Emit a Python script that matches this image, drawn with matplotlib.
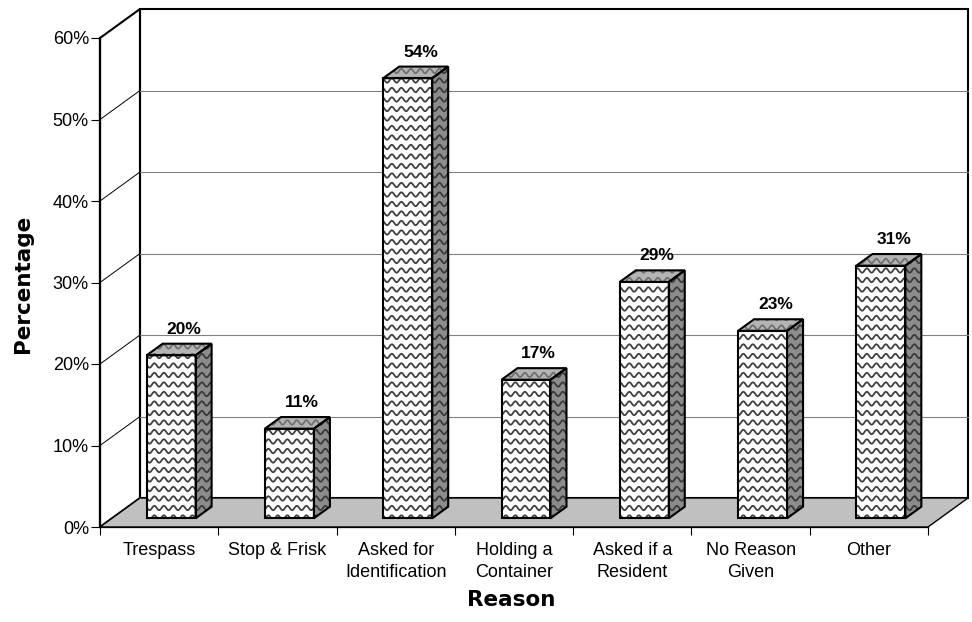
import numpy as np
import matplotlib
matplotlib.use('Agg')
import matplotlib.pyplot as plt
from matplotlib.patches import Polygon
from matplotlib.lines import Line2D
from matplotlib.transforms import IdentityTransform
from matplotlib.ticker import FuncFormatter

reasons = ['Trespass', 'Stop & Frisk', 'Asked for\nIdentification', 'Holding a\nContainer',
           'Asked if a\nResident', 'No Reason\nGiven', 'Other']
percentages = [20, 11, 54, 17, 29, 23, 31]
y_ticks = [0, 10, 20, 30, 40, 50, 60]

plt.rcParams['font.family'] = 'Liberation Sans'

W, H = 972, 622
fig = plt.figure(figsize=(W / 100, H / 100), dpi=100)
ax = fig.add_axes([100 / W, 95 / H, 828 / W, 489 / H])
ax.set_xlim(0, len(reasons))
ax.set_ylim(y_ticks[0], y_ticks[-1])
ax.patch.set_visible(False)

# depth of the box: 40 px to the right, 29 px up, expressed in data units
DX = 40 / (828 / len(reasons))
DY = 29 / (489 / (y_ticks[-1] - y_ticks[0]))
BAR_W = 0.414
Z0, Z1 = 0.3, 0.7          # bars sit in the middle of the floor depth

# wavy fill texture, in pixels
PERIOD, ROW, AMP = 9.5, 9.5, 2.2


def shift(points, z):
    return [(x + z * DX, y + z * DY) for x, y in points]


def face(points, color, wave_color=None, lw=1.5, z=3, edge='black'):
    poly = Polygon(points, closed=True, facecolor=color, edgecolor='none',
                   clip_on=False, zorder=z)
    ax.add_patch(poly)
    if wave_color:
        pix = ax.transData.transform(points)
        xs = np.arange(pix[:, 0].min() - 4, pix[:, 0].max() + 4, 0.5)
        y0 = np.floor(pix[:, 1].min() / ROW) * ROW
        for yr in np.arange(y0, pix[:, 1].max() + ROW, ROW):
            wave = Line2D(xs, yr + AMP * np.sin(2 * np.pi * xs / PERIOD),
                          transform=IdentityTransform(), color=wave_color,
                          lw=1.3, zorder=z + 0.1)
            wave.set_clip_path(poly)
            ax.add_line(wave)
    if lw:
        ax.add_patch(Polygon(points, closed=True, fill=False, edgecolor=edge,
                             linewidth=lw, joinstyle='miter', clip_on=False,
                             zorder=z + 0.2))


n = len(reasons)
top = y_ticks[-1]

# walls and floor
face(shift([(0, 0), (n, 0), (n, top), (0, top)], 1), 'white', z=0.5)
face([(0, 0), (DX, DY), (DX, top + DY), (0, top)], 'white', z=0.6)
for v in y_ticks[1:-1]:
    ax.plot([DX, n + DX], [v + DY, v + DY], color='#808080', lw=0.8,
            clip_on=False, zorder=0.9)
    ax.plot([0, DX], [v, v + DY], color='black', lw=0.7, clip_on=False, zorder=0.9)
face([(0, 0), (n, 0), (n + DX, DY), (DX, DY)], '#c0c0c0', lw=1.0, z=1.0)

# bars
for i, v in enumerate(percentages):
    xa = i + 0.5 - BAR_W / 2
    xb = i + 0.5 + BAR_W / 2
    side = shift([(xb, 0), (xb, v)], Z0) + shift([(xb, v), (xb, 0)], Z1)
    lid = shift([(xa, v), (xb, v)], Z0) + shift([(xb, v), (xa, v)], Z1)
    front = shift([(xa, 0), (xb, 0), (xb, v), (xa, v)], Z0)
    face(side, '#8c8c8c', '#3a3a3a', z=3)
    face(lid, '#b4b4b4', '#707070', z=3)
    face(front, 'white', '#404040', z=3)
    ax.annotate(f'{v}%', xy=(i + 0.5 + 0.62 * DX, v + Z1 * DY), xytext=(0, 5),
                textcoords='offset points', ha='center', va='bottom',
                fontsize=12.5, fontweight='bold', zorder=5, annotation_clip=False)

# axes
for s in ['top', 'right']:
    ax.spines[s].set_visible(False)
ax.spines['left'].set_linewidth(1.6)
ax.spines['bottom'].set_linewidth(0.9)
ax.set_yticks(y_ticks)
ax.yaxis.set_major_formatter(FuncFormatter(lambda v, _: f'{v:.0f}%'))
ax.tick_params(axis='y', length=6.5, width=0.8, pad=1.5, labelsize=13)
ax.set_xticks(range(n + 1))
ax.set_xticklabels([])
ax.set_xticks(np.arange(n) + 0.5, minor=True)
ax.set_xticklabels(reasons, minor=True)
ax.tick_params(axis='x', which='major', length=6, width=0.8)
ax.tick_params(axis='x', which='minor', length=0, pad=11, labelsize=13)
for lbl in ax.get_xticklabels(minor=True):
    lbl.set_linespacing(1.35)

fig.text(23 / W, 1 - 284 / H, 'Percentage', rotation=90, ha='center', va='center',
         fontsize=15.5, fontweight='bold', family='DejaVu Sans')
fig.text(511 / W, 1 - 600 / H, 'Reason', ha='center', va='center',
         fontsize=15.5, fontweight='bold', family='DejaVu Sans')

fig.savefig('out.png', dpi=100)
